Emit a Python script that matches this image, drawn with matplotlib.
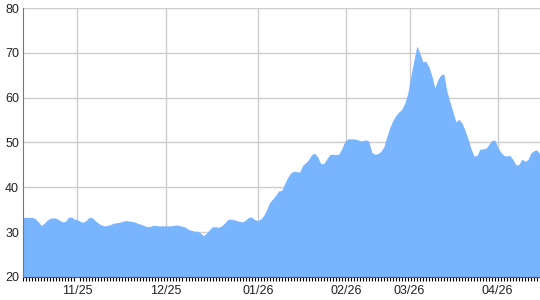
# area chart of the daily values, light blue fill on a light grid

import matplotlib

matplotlib.use("Agg")
import matplotlib.pyplot as plt
from matplotlib.ticker import FixedLocator

# daily values (one per point on the x axis)
values = [
    33.3, 33.3, 33.3, 33.3, 33.0, 32.3, 31.5, 32.0, 32.7, 33.1,
    33.2, 33.1, 32.7, 32.3, 32.4, 33.3, 33.4, 32.9, 32.8, 32.4,
    32.2, 32.7, 33.3, 33.2, 32.5, 32.0, 31.6, 31.4, 31.5, 31.7,
    32.0, 32.1, 32.2, 32.4, 32.6, 32.5, 32.4, 32.3, 32.0, 31.8,
    31.5, 31.3, 31.2, 31.5, 31.5, 31.4, 31.4, 31.4, 31.4, 31.4,
    31.5, 31.6, 31.5, 31.3, 31.1, 30.6, 30.4, 30.2, 30.2, 29.8,
    29.2, 29.8, 30.6, 31.2, 31.2, 31.1, 31.4, 32.0, 32.8, 32.9,
    32.8, 32.6, 32.4, 32.3, 32.7, 33.3, 33.4, 32.8, 32.6, 32.9,
    33.7, 35.0, 36.6, 37.4, 38.2, 39.2, 39.3, 40.8, 42.2, 43.2,
    43.6, 43.5, 43.4, 44.9, 45.5, 46.2, 47.3, 47.6, 46.8, 45.3,
    45.3, 46.3, 47.3, 47.4, 47.3, 47.4, 48.6, 50.2, 50.8, 50.8,
    50.8, 50.7, 50.4, 50.4, 50.6, 50.3, 47.8, 47.4, 47.5, 48.0,
    49.0, 51.3, 53.3, 54.9, 56.0, 56.8, 57.4, 58.8, 61.0, 64.8,
    68.2, 71.5, 70.0, 68.0, 68.1, 66.9, 64.9, 62.2, 64.0, 65.1,
    65.3, 61.5, 59.1, 56.9, 54.6, 55.2, 54.4, 52.8, 50.9, 48.7,
    47.0, 47.1, 48.5, 48.6, 48.7, 49.6, 50.5, 50.5, 48.9, 47.8,
    47.1, 47.0, 47.1, 46.2, 45.0, 45.1, 46.3, 45.8, 46.2, 47.7,
    48.2, 48.3, 47.4,
]
# month labels and the point where each month starts
month_labels = ["11/25", "12/25", "01/26", "02/26", "03/26", "04/26"]
month_pos = [18, 47.5, 78.2, 107.5, 128.6, 157.9]
y_ticks = [20, 30, 40, 50, 60, 70, 80]

plt.rcParams["font.family"] = ["Liberation Sans", "DejaVu Sans"]

fig = plt.figure(figsize=(5.4, 3.0), dpi=100)
ax = fig.add_axes([0.0431, 0.0767, 0.9569, 0.8966])

x = list(range(len(values)))
ax.fill_between(x, 20, values, color="#79b4ff", linewidth=0, zorder=2)

ax.set_xlim(0, len(values) - 1)
ax.set_ylim(20, 80)

# grid
ax.set_yticks(y_ticks)
ax.set_xticks(month_pos)
ax.set_xticklabels(month_labels)
ax.grid(True, color="#cccccc", linewidth=1, zorder=1)
ax.set_axisbelow(True)

# small tick for every point along the bottom
ax.xaxis.set_minor_locator(FixedLocator(x))
ax.tick_params(axis="x", which="minor", direction="out", length=3,
               width=0.8, color="#000000")
ax.tick_params(axis="x", which="major", length=0, pad=6,
               labelsize=9, labelcolor="#222222")
ax.tick_params(axis="y", length=0, pad=3, labelsize=9, labelcolor="#222222")

for side in ["top", "right"]:
    ax.spines[side].set_visible(False)
ax.spines["left"].set_color("#777777")
ax.spines["bottom"].set_color("#555555")
ax.spines["left"].set_zorder(3)

fig.savefig("out.png", dpi=100)
